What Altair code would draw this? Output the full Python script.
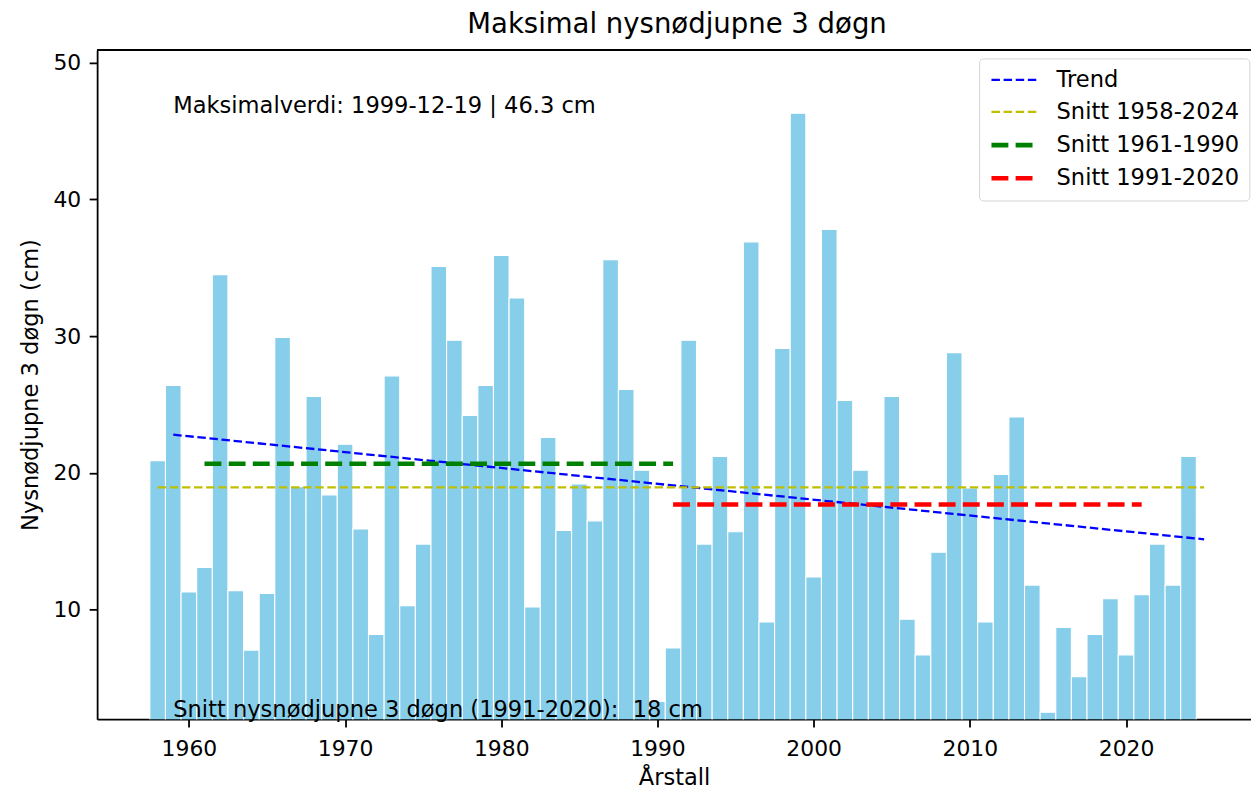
import altair as alt
import pandas as pd

# ---------------- data ----------------
years = list(range(1958, 2025))
values = [20.9, 26.4, 11.3, 13.1, 34.5, 11.4, 7.05, 11.2, 29.9, 19.0,
          25.6, 18.4, 22.1, 15.9, 8.2, 27.1, 10.3, 14.8, 35.1, 29.7,
          24.2, 26.4, 35.9, 32.8, 10.2, 22.6, 15.8, 19.2, 16.5, 35.6,
          26.1, 20.2, 3.3, 7.2, 29.7, 14.8, 21.2, 15.7, 36.9, 9.1,
          29.1, 46.3, 12.4, 37.8, 25.3, 20.2, 17.7, 25.6, 9.3, 6.7,
          14.2, 28.8, 18.9, 9.1, 19.9, 24.1, 11.8, 2.5, 8.7, 5.1,
          8.2, 10.8, 6.7, 11.1, 14.8, 11.8, 21.2]

series = ["Trend", "Snitt 1958-2024", "Snitt 1961-1990", "Snitt 1991-2020"]
line_x_start = [1959, 1958, 1961, 1991]
line_x_end = [2025, 2025, 1991, 2021]
line_y_start = [22.8, 18.95, 20.67, 17.69]
line_y_end = [15.15, 18.95, 20.67, 17.69]

note_texts = ["Maksimalverdi: 1999-12-19 | 46.3 cm",
              "Snitt nysnødjupne 3 døgn (1991-2020): \u00a018 cm"]
note_x = [1959, 1959]
note_y = [46.3, 2.15]

x_ticks = [1960, 1970, 1980, 1990, 2000, 2010, 2020]
y_ticks = [10, 20, 30, 40, 50]

# ---------------- styles ----------------
line_colors = ["#0000ff", "#bfbf00", "#008000", "#ff0000"]
line_dashes = [[8.5, 3.7], [8.5, 3.7], [17, 7.3], [17, 7.3]]
line_widths = [2.3, 2.3, 4.6, 4.6]
FONT = "DejaVu Sans"
W = 1161.3
H = 673.5

bar_df = pd.DataFrame({"year": years, "value": values})
rows = []
for i, s in enumerate(series):
    rows.append({"series": s, "x": line_x_start[i], "y": line_y_start[i], "o": 0})
    rows.append({"series": s, "x": line_x_end[i], "y": line_y_end[i], "o": 1})
line_df = pd.DataFrame(rows)
note_df = pd.DataFrame({"x": note_x, "y": note_y, "label": note_texts})

xscale = alt.Scale(domain=[1954.125, 2028.0], nice=False, zero=False)
yscale = alt.Scale(domain=[2.0, 50.93], nice=False, zero=False)

xaxis = alt.Axis(values=x_ticks, format="d", title="Årstall", labelPadding=11.5,
                 titlePadding=7, labelFlush=False, labelOverlap=False)
yaxis = alt.Axis(values=y_ticks, title="Nysnødjupne 3 døgn (cm)", labelPadding=8.5,
                 titlePadding=11)

bars = alt.Chart(bar_df).transform_calculate(
    x0="datum.year - 0.5", x1="datum.year + 0.5"
).mark_bar(color="#87ceeb", stroke="white", strokeWidth=1.1, clip=True).encode(
    x=alt.X("x0:Q", scale=xscale, axis=xaxis),
    x2="x1:Q",
    y=alt.Y("value:Q", scale=yscale, axis=yaxis),
    y2=alt.datum(0),
)

leg = alt.Legend(
    title=None, orient="none", legendX=887.6, legendY=8.5,
    symbolType="M-1,0L3.6,0", symbolSize=400, symbolFillColor="transparent",
    labelFontSize=22.7, labelFont=FONT, labelColor="black", labelOffset=43,
    labelLimit=500, rowPadding=8.4, padding=10, fillColor="white",
    strokeColor="#d5d5d5", cornerRadius=4,
)

lines = alt.Chart(line_df).mark_line(clip=True).encode(
    x=alt.X("x:Q", scale=xscale),
    y=alt.Y("y:Q", scale=yscale),
    color=alt.Color("series:N", scale=alt.Scale(domain=series, range=line_colors), legend=leg),
    strokeDash=alt.StrokeDash("series:N", scale=alt.Scale(domain=series, range=line_dashes), legend=leg),
    strokeWidth=alt.StrokeWidth("series:N", scale=alt.Scale(type="ordinal", domain=series, range=line_widths), legend=leg),
    order="o:Q",
)

notes = alt.Chart(note_df).mark_text(
    align="left", baseline="alphabetic", fontSize=22.7, font=FONT, color="black"
).encode(
    x=alt.X("x:Q", scale=xscale),
    y=alt.Y("y:Q", scale=yscale),
    text="label:N",
)

top_spine = alt.Chart(bar_df).mark_rule(color="black", strokeWidth=1.8).encode(
    x=alt.value(0), x2=alt.value(W), y=alt.value(0)
)

chart = alt.layer(bars, lines, notes, top_spine).properties(
    width=W, height=H,
    title=alt.TitleParams("Maksimal nysnødjupne 3 døgn", fontSize=27.7, font=FONT,
                          fontWeight="normal", color="black", anchor="middle",
                          baseline="alphabetic", offset=8.7, dx=3, dy=20),
    autosize=alt.AutoSizeParams(type="none"),
    padding={"left": 89.7, "top": 39.7, "right": 0, "bottom": 75},
).configure_view(stroke=None).configure_axis(
    labelFont=FONT, labelFontSize=22, labelColor="black",
    titleFont=FONT, titleFontSize=22.7, titleFontWeight="normal", titleColor="black",
    tickColor="black", tickSize=8, tickWidth=1.8,
    domainColor="black", domainWidth=1.8, grid=False,
)

chart.save("out.html", embed_options={"renderer": "svg", "actions": False})
